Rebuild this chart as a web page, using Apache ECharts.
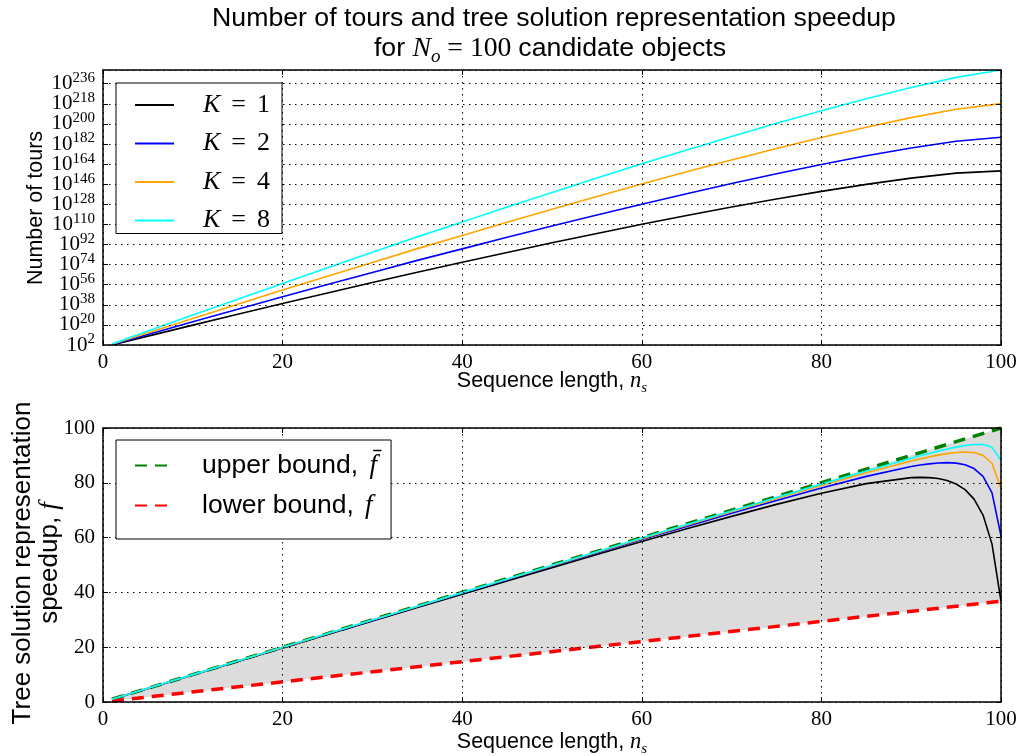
<!DOCTYPE html>
<html><head><meta charset="utf-8">
<script src="https://cdn.jsdelivr.net/npm/echarts@6/dist/echarts.min.js"></script>
<style>html,body{margin:0;padding:0;background:#fff}#c{width:1021px;height:756px}</style>
</head><body><div id="c"></div>
<script>
// ---- data (top: log10 of number of tours) ----
const nTop = [1,5,10,15,20,25,30,35,40,45,50,55,60,65,70,75,80,85,90,95,100];
const toursK1 = [2.00,9.96,19.80,29.52,39.12,48.58,57.89,67.23,76.05,84.87,93.49,101.89,110.06,117.96,125.55,132.78,139.58,145.85,151.41,155.89,157.97];
const toursK2 = [2.30,11.46,22.81,34.04,45.14,56.10,66.92,77.77,88.09,98.41,108.54,118.45,128.12,137.52,146.62,155.36,163.67,171.44,178.50,184.49,188.07];
const toursK4 = [2.60,12.97,25.82,38.55,51.16,63.63,75.95,88.31,100.13,111.96,123.59,135.01,146.18,157.09,167.69,177.93,187.75,197.03,205.60,213.09,218.18];
const toursK8 = [2.90,14.47,28.83,43.07,57.18,71.15,84.99,98.84,112.17,125.51,138.64,151.56,164.24,176.66,188.76,200.51,211.83,222.62,232.69,241.69,248.28];
const kLabels = ['1','2','4','8'];
// ---- data (bottom: speedup) ----
const nBottom = [1,5,10,15,20,25,30,35,40,45,50,55,60,65,70,75,80,85,90,91,92,93,94,95,96,97,98,99,100];
const speedK1 = [1.00,4.95,9.89,14.83,19.75,24.67,29.58,34.47,39.34,44.20,49.02,53.81,58.54,63.20,67.74,72.12,76.20,79.71,81.89,81.99,81.90,81.55,80.83,79.58,77.50,74.06,68.22,57.62,36.79];
const speedK2 = [1.00,4.97,9.95,14.91,19.88,24.84,29.79,34.74,39.67,44.60,49.51,54.40,59.27,64.10,68.87,73.56,78.10,82.35,85.93,86.47,86.92,87.23,87.35,87.18,86.57,85.19,82.37,76.30,60.65];
const speedK4 = [1.00,4.99,9.97,14.96,19.94,24.92,29.89,34.87,39.84,44.80,49.76,54.70,59.63,64.55,69.44,74.28,79.05,83.67,87.96,88.73,89.45,90.10,90.66,91.07,91.24,91.02,90.01,87.14,77.88];
const speedK8 = [1.00,4.99,9.99,14.98,19.97,24.96,29.95,34.93,39.92,44.90,49.88,54.85,59.82,64.78,69.72,74.64,79.52,84.34,88.98,89.86,90.72,91.55,92.33,93.03,93.61,93.99,93.96,92.94,88.25];
const boundN = [1,100];
const upperBound = [1,100];
const lowerBound = [0.37,36.79];
// axis settings
const topYMin = 2, topYMax = 248.28, topYStep = 18;
const xTicks = {min:0, max:100, step:20};
const botY = {min:0, max:100, step:20};

const SANS = 'Liberation Sans', SERIF = 'Liberation Serif';
const colors = ['#000000','#0000ff','#ffa500','#00ffff'];
const pairs = (xs, ys) => xs.map((x,i)=>[x, ys[i]]);

const gridStyle = {show:true, lineStyle:{color:'#000', width:1, type:[1.5,4.5]}};
const tick = {show:true, inside:true, length:5, lineStyle:{color:'#000', width:1}};
const line = {show:true, onZero:false, lineStyle:{color:'#000', width:1.5}};
const lab = {fontFamily:SERIF, fontSize:21, color:'#000'};
const expRich = {
  b:{fontFamily:SERIF, fontSize:21, color:'#000', lineHeight:26},
  s:{fontFamily:SERIF, fontSize:15, color:'#000', lineHeight:15, verticalAlign:'top'} };
const expFmt = v => '{b|10}{s|' + Math.round(v) + '}';

function xAx(grid, main){
  return {type:'value', gridIndex:grid, position: main?'bottom':'top', min:xTicks.min, max:xTicks.max, interval:xTicks.step, z:10,
    axisLine:line, axisTick:tick, splitLine: main?gridStyle:{show:false},
    axisLabel: main?Object.assign({margin:7}, lab):{show:false}};
}
function yAx(grid, main, mn, mx, st, fmt){
  const o = {type:'value', gridIndex:grid, position: main?'left':'right', min:mn, max:mx, interval:st, z:10,
    axisLine:line, axisTick:tick, splitLine: main?gridStyle:{show:false},
    axisLabel: main?Object.assign({margin:8}, lab):{show:false}};
  if (main && fmt) { o.axisLabel.formatter = fmt; o.axisLabel.rich = expRich;
    o.axisLabel.showMinLabel = false; o.axisLabel.showMaxLabel = false; }
  return o;
}
// extra label-only axis for the 10^2 label at the bottom of the top panel
const minLabelAxis = {type:'value', gridIndex:0, position:'left', min:topYMin, max:topYMax, interval:topYStep, z:10,
  axisLine:{show:false}, axisTick:{show:false}, splitLine:{show:false},
  axisLabel:{margin:8, customValues:[topYMin], showMinLabel:true, formatter:expFmt, rich:expRich}};

const series = [];
const topData = [toursK1, toursK2, toursK4, toursK8];
topData.forEach((d,i)=>series.push({name:'K = '+kLabels[i], type:'line', xAxisIndex:0, yAxisIndex:0,
  data:pairs(nTop,d), symbol:'none', lineStyle:{color:colors[i], width:1.6}, itemStyle:{color:colors[i]}, z:3}));
// grey band between bounds: grey area under upper bound, white area under lower bound
series.push({name:'band-up', type:'line', xAxisIndex:2, yAxisIndex:2, symbol:'none',
  data:pairs(boundN, upperBound), lineStyle:{opacity:0}, areaStyle:{color:'#dcdcdc', opacity:1, origin:'start'}, silent:true, z:1});
series.push({name:'band-low', type:'line', xAxisIndex:2, yAxisIndex:2, symbol:'none',
  data:pairs(boundN, lowerBound), lineStyle:{opacity:0}, areaStyle:{color:'#ffffff', opacity:1, origin:'start'}, silent:true, z:1});
series.push({name:'upper', type:'line', xAxisIndex:2, yAxisIndex:2, symbol:'none', data:pairs(boundN, upperBound),
  lineStyle:{color:'#008000', width:3.5, type:[12,8]}, itemStyle:{color:'#008000'}, z:2});
series.push({name:'lower', type:'line', xAxisIndex:2, yAxisIndex:2, symbol:'none', data:pairs(boundN, lowerBound),
  lineStyle:{color:'#ff0000', width:3.5, type:[12,8]}, itemStyle:{color:'#ff0000'}, z:2});
[speedK1, speedK2, speedK4, speedK8].forEach((d,i)=>series.push({name:'speed K'+kLabels[i], type:'line', xAxisIndex:2, yAxisIndex:2,
  data:pairs(nBottom,d), symbol:'none', lineStyle:{color:colors[i], width:1.6}, itemStyle:{color:colors[i]}, z:3}));

const richSans = (fs, afs)=>({
  a:{fontFamily:SANS, fontSize:fs, fill:'#000', lineHeight:fs+8},
  m:{fontFamily:SERIF, fontStyle:'italic', fontSize:(afs||fs)+1, fill:'#000', lineHeight:fs+8},
  r:{fontFamily:SERIF, fontSize:fs+1, fill:'#000', lineHeight:fs+8},
  sub:{fontFamily:SERIF, fontStyle:'italic', fontSize:Math.round(fs*0.72), fill:'#000', lineHeight:Math.round(fs*0.72)+2, verticalAlign:'bottom'}
});

const option = {
  animation:false,
  backgroundColor:'#fff',
  grid:[{left:103, right:20, top:70, height:275}, {left:103, right:20, top:428, height:274}],
  xAxis:[xAx(0,true), xAx(0,false), xAx(1,true), xAx(1,false)],
  yAxis:[yAx(0,true,topYMin,topYMax,topYStep,expFmt), yAx(0,false,topYMin,topYMax,topYStep),
         yAx(1,true,botY.min,botY.max,botY.step), yAx(1,false,botY.min,botY.max,botY.step), minLabelAxis],
  legend:[{
    data:['K = 1','K = 2','K = 4','K = 8'], orient:'vertical', left:116, top:83, z:20,
    padding:[9,12,0,18], itemGap:12.5, itemWidth:39, itemHeight:2,
    itemStyle:{opacity:0},
    backgroundColor:'#fff', borderColor:'#000', borderWidth:1, borderRadius:0,
    formatter: n => '{sp|}{i|K}{e|=}{r|' + n.slice(4) + '}',
    textStyle:{rich:{sp:{width:24, lineHeight:26}, i:{fontFamily:SERIF, fontStyle:'italic', fontSize:26, color:'#000', lineHeight:26},
                     e:{fontFamily:SERIF, fontSize:26, color:'#000', lineHeight:26, padding:[0,11,0,11]},
                     r:{fontFamily:SERIF, fontSize:26, color:'#000', lineHeight:26}}}
  },{
    data:['upper','lower'], orient:'vertical', left:116, top:440, z:20,
    padding:[12,14,20,18], itemGap:13, itemWidth:36, itemHeight:2,
    itemStyle:{opacity:0},
    backgroundColor:'#fff', borderColor:'#000', borderWidth:1, borderRadius:0,
    formatter: n => n==='upper' ? '{sp|}{a|upper bound, }{i|f\u0304}' : '{sp|}{a|lower bound, }{i|f}',
    textStyle:{rich:{sp:{width:26, lineHeight:26}, a:{fontFamily:SANS, fontSize:26.5, color:'#000', lineHeight:26},
                     i:{fontFamily:SERIF, fontStyle:'italic', fontSize:27, color:'#000', lineHeight:26, padding:[0,0,0,4]}}}
  }],
  graphic:[
    {type:'text', x:554, y:19, style:{text:'{a|Number of tours and tree solution representation speedup}', rich:richSans(26.7), align:'center', verticalAlign:'middle'}},
    {type:'text', x:550, y:49, style:{text:'{a|for }{m|N}{sub|o}{r| = 100 }{a|candidate objects}', rich:richSans(26.7), align:'center', verticalAlign:'middle'}},
    {type:'text', x:552, y:381, style:{text:'{a|Sequence length, }{m|n}{sub|s}', rich:richSans(21.5), align:'center', verticalAlign:'middle'}},
    {type:'text', x:552, y:742, style:{text:'{a|Sequence length, }{m|n}{sub|s}', rich:richSans(21.5), align:'center', verticalAlign:'middle'}},
    {type:'text', x:36, y:208, rotation:Math.PI/2, style:{text:'{a|Number of tours}', rich:richSans(21.5), align:'center', verticalAlign:'middle'}},
    {type:'text', x:23, y:563, rotation:Math.PI/2, style:{text:'{a|Tree solution representation}', rich:richSans(26), align:'center', verticalAlign:'middle'}},
    {type:'text', x:50, y:563, rotation:Math.PI/2, style:{text:'{a|speedup, }{m|f}', rich:richSans(26), align:'center', verticalAlign:'middle'}}
  ],
  series: series
};
const chart = echarts.init(document.getElementById('c'), null, {renderer:'canvas'});
chart.setOption(option);
</script>
</body></html>
